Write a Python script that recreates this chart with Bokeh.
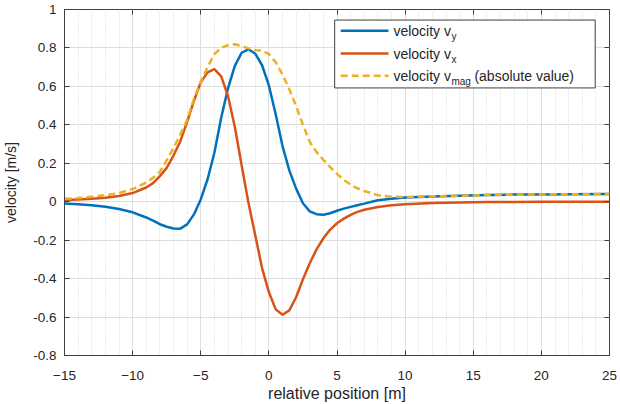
from bokeh.plotting import figure
from bokeh.models import (Range1d, FixedTicker, CustomJSTickFormatter,
                          LinearAxis, Label, ColumnDataSource)
from bokeh.embed import file_html
from bokeh.resources import INLINE

# ---------------- data ----------------
position = [-15, -14, -13, -12, -11, -10, -9, -8.5, -8, -7.5, -7, -6.5, -6, -5.5, -5, -4.5,
            -4, -3.5, -3, -2.5, -2, -1.5, -1, -0.5, 0, 0.5, 1, 1.5, 2, 2.5, 3, 3.5, 4, 4.5,
            5, 5.5, 6, 6.5, 7, 8, 9, 10, 12, 14, 16, 18, 20, 22, 25]

velocity_y = [-0.009, -0.013, -0.018, -0.026, -0.038, -0.055, -0.082, -0.098, -0.117, -0.130,
              -0.139, -0.140, -0.118, -0.066, 0.012, 0.117, 0.255, 0.437, 0.590, 0.707,
              0.775, 0.793, 0.770, 0.710, 0.605, 0.455, 0.290, 0.163, 0.068, -0.008,
              -0.050, -0.065, -0.068, -0.060, -0.047, -0.036, -0.027, -0.018, -0.010, 0.008,
              0.016, 0.022, 0.027, 0.031, 0.035, 0.037, 0.038, 0.039, 0.040]

velocity_x = [0.009, 0.012, 0.016, 0.021, 0.030, 0.045, 0.074, 0.097, 0.133, 0.176,
              0.240, 0.315, 0.415, 0.525, 0.621, 0.673, 0.690, 0.652, 0.550, 0.390,
              0.190, -0.005, -0.175, -0.345, -0.470, -0.560, -0.588, -0.565, -0.497, -0.403,
              -0.320, -0.248, -0.190, -0.145, -0.112, -0.088, -0.068, -0.053, -0.042, -0.027,
              -0.018, -0.013, -0.007, -0.004, -0.002, -0.001, 0.000, 0.000, 0.000]

velocity_mag = [0.015, 0.019, 0.026, 0.034, 0.045, 0.066, 0.100, 0.124, 0.155, 0.215,
                0.280, 0.350, 0.425, 0.535, 0.625, 0.700, 0.768, 0.800, 0.815, 0.819,
                0.810, 0.798, 0.788, 0.786, 0.768, 0.726, 0.662, 0.585, 0.497, 0.400,
                0.312, 0.258, 0.218, 0.180, 0.145, 0.113, 0.088, 0.070, 0.056, 0.034,
                0.026, 0.025, 0.028, 0.031, 0.035, 0.037, 0.038, 0.039, 0.040]

x_ticks = [-15, -10, -5, 0, 5, 10, 15, 20, 25]
y_ticks = [-0.8, -0.6, -0.4, -0.2, 0.0, 0.2, 0.4, 0.6, 0.8, 1.0]

series_labels = ["velocity v", "velocity v", "velocity v"]
series_subscripts = ["y", "x", "mag"]
legend_suffix = "(absolute value)"

# ---------------- styling ----------------
BLUE = "#0072BD"
ORANGE = "#D95319"
YELLOW = "#EDB120"
TEXT = "#262626"
AXIS = "#404040"
FONT = "Liberation Sans"
LW = 2.5

src = ColumnDataSource(dict(pos=position, vy=velocity_y, vx=velocity_x, vmag=velocity_mag))

p = figure(width=620, height=404, output_backend="svg", toolbar_location=None,
           x_range=Range1d(-15, 25), y_range=Range1d(-0.8, 1.0),
           min_border_left=63, min_border_right=11, min_border_top=9, min_border_bottom=48,
           x_axis_label="relative position [m]", y_axis_label="velocity [m/s]")
p.background_fill_color = "white"
p.border_fill_color = "white"
p.outline_line_color = AXIS
p.outline_line_width = 1

p.xaxis.ticker = FixedTicker(ticks=x_ticks, minor_ticks=list(range(-15, 26)))
p.yaxis.ticker = FixedTicker(ticks=y_ticks, minor_ticks=[])
p.yaxis.formatter = CustomJSTickFormatter(code="return String(Number(tick.toFixed(1)));")

for ax in (p.xaxis[0], p.yaxis[0]):
    ax.axis_line_color = AXIS
    ax.major_tick_line_color = AXIS
    ax.major_tick_in = 5
    ax.major_tick_out = 0
    ax.minor_tick_line_color = None
    ax.major_label_text_font = FONT
    ax.major_label_text_font_size = "13.5px"
    ax.major_label_text_color = TEXT
    ax.axis_label_text_font = FONT
    ax.axis_label_text_font_style = "normal"
    ax.axis_label_text_color = TEXT

p.xaxis.major_label_standoff = 11
p.xaxis.axis_label_standoff = 2
p.xaxis.axis_label_text_font_size = "16px"
p.yaxis.major_label_standoff = 8
p.yaxis.axis_label_standoff = 11
p.yaxis.axis_label_text_font_size = "14px"

# right / top axes: tick marks only
for loc, tick in (("right", FixedTicker(ticks=y_ticks, minor_ticks=[])),
                  ("above", FixedTicker(ticks=x_ticks, minor_ticks=[]))):
    ax = LinearAxis(ticker=tick, formatter=CustomJSTickFormatter(code="return '';"))
    ax.axis_line_color = None
    ax.major_tick_line_color = AXIS
    ax.major_tick_in = 5
    ax.major_tick_out = 0
    ax.minor_tick_line_color = None
    ax.major_label_standoff = 0
    ax.major_label_text_font_size = "1px"
    p.add_layout(ax, loc)

# grid
p.xgrid.grid_line_color = "#dedede"
p.ygrid.grid_line_color = "#dedede"
p.xgrid.minor_grid_line_color = "#d4d4d4"
p.xgrid.minor_grid_line_dash = "1 2"
p.ygrid.minor_grid_line_color = None

# data lines
p.line("pos", "vy", source=src, line_color=BLUE, line_width=LW)
p.line("pos", "vx", source=src, line_color=ORANGE, line_width=LW)
p.line("pos", "vmag", source=src, line_color=YELLOW, line_width=LW, line_dash="7 4")

# ---------------- manual legend (for subscripts) ----------------
LEG_LEFT, LEG_RIGHT, LEG_TOP, LEG_BOTTOM = 4.83, 23.95, 0.945, 0.592
p.quad(left=[LEG_LEFT], right=[LEG_RIGHT], top=[LEG_TOP], bottom=[LEG_BOTTOM],
       fill_color="white", line_color=AXIS, line_width=1)

row_y = [0.889, 0.771, 0.655]
colors = [BLUE, ORANGE, YELLOW]
dashes = ["solid", "solid", "7 4"]
SAMPLE_X = [5.27, 8.78]
TEXT_X = 9.14
MAIN_W = 58   # px width of "velocity v" at 14px
for yy, c, d, lab, sub in zip(row_y, colors, dashes, series_labels, series_subscripts):
    p.line(SAMPLE_X, [yy, yy], line_color=c, line_width=LW, line_dash=d)
    p.add_layout(Label(x=TEXT_X, y=yy, text=lab, text_font=FONT, text_font_size="14px",
                       text_color=TEXT, text_baseline="middle", text_align="left"))
    p.add_layout(Label(x=TEXT_X, y=yy, x_offset=MAIN_W, y_offset=-6, text=sub,
                       text_font=FONT, text_font_size="10px", text_color=TEXT,
                       text_baseline="middle", text_align="left"))
p.add_layout(Label(x=TEXT_X, y=row_y[2], x_offset=MAIN_W + 23, text=legend_suffix,
                   text_font=FONT, text_font_size="14px", text_color=TEXT,
                   text_baseline="middle", text_align="left"))

open("out.html", "w").write(file_html(p, INLINE))
